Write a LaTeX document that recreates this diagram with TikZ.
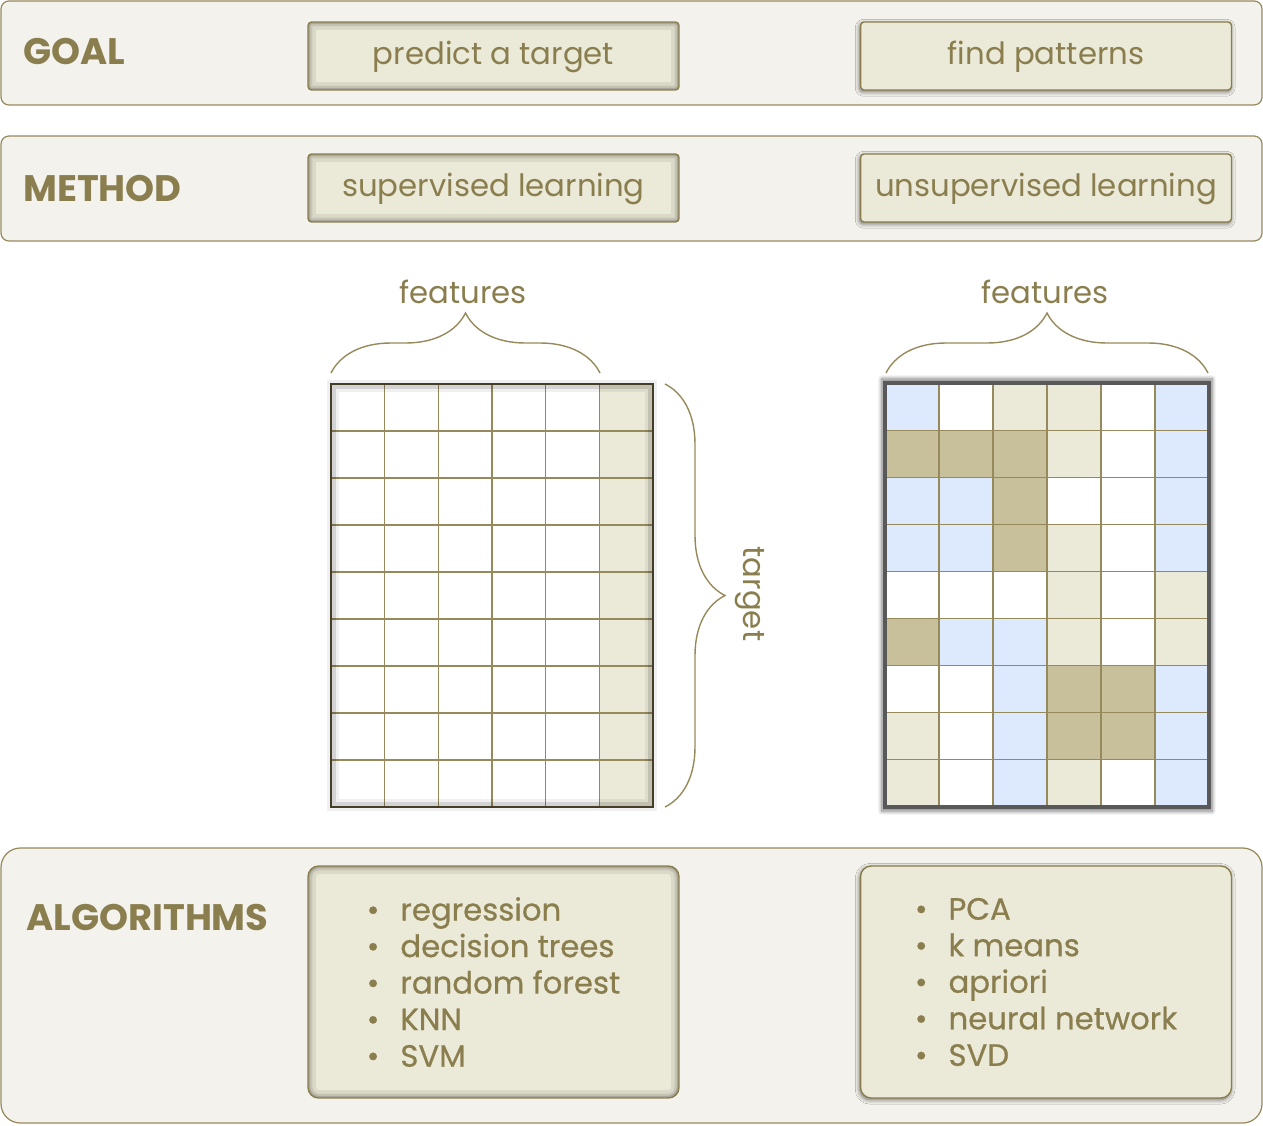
\documentclass[tikz,border=0pt]{standalone}
\usepackage{fontspec}
\setmainfont{Poppins}
\usetikzlibrary{positioning,shadows.blur,decorations.pathreplacing}
\definecolor{olivetext}{RGB}{138,126,78}
\definecolor{oliveline}{RGB}{150,138,92}
\definecolor{panelbg}{RGB}{243,242,236}
\definecolor{boxbg}{RGB}{235,233,215}
\definecolor{tandark}{RGB}{200,192,154}
\definecolor{gridblue}{RGB}{221,233,252}
\colorlet{cellB}{gridblue}
\colorlet{cellW}{white}
\colorlet{cellL}{boxbg}
\colorlet{cellD}{tandark}
\tikzset{
  panel/.style={draw=oliveline, fill=panelbg, line width=0.7pt},
  heading/.style={anchor=west, inner sep=0pt, text=olivetext, font=\fontsize{21}{25}\selectfont\bfseries},
  textbox/.style={draw=olivetext, fill=boxbg, line width=0.8pt, text=olivetext,
    minimum width=7.42cm, minimum height=1.36cm, font=\fontsize{17.5}{21}\selectfont},
  boxtext/.style={text height=13pt, text depth=3pt},
  insetbox/.style={textbox, rounded corners=2pt,
    path picture={
      \draw[black, opacity=0.07, line width=9pt] (path picture bounding box.south west) rectangle (path picture bounding box.north east);
      \draw[black, opacity=0.09, line width=5pt] (path picture bounding box.south west) rectangle (path picture bounding box.north east);
      \draw[black, opacity=0.15, line width=2.5pt] (path picture bounding box.south west) rectangle (path picture bounding box.north east);}},
  raisedbox/.style={textbox, rounded corners=2pt,
    blur shadow={shadow xshift=-0.5pt, shadow yshift=-1pt, shadow blur steps=8, shadow blur radius=2.5pt, shadow opacity=55}},
  listbox/.style={align=left, minimum height=4.64cm, font=\fontsize{17.5}{20.8}\selectfont\addfontfeature{FakeBold=0.6}},
  label/.style={text=olivetext, font=\fontsize{17.5}{21}\selectfont},
  gridline/.style={draw=oliveline, line width=0.6pt},
  featbrace/.style={draw=oliveline, line width=0.8pt, decorate, decoration={brace, amplitude=1.2cm}},
}
\begin{document}
\begin{tikzpicture}[x=0.02cm,y=-0.02cm]
\useasboundingbox (0,0) rectangle (1263,1125);
% the three panels
\draw[panel, rounded corners=4.5pt] (1,1) rectangle (1262,105);
\draw[panel, rounded corners=4.5pt] (1,136) rectangle (1262,241);
\draw[panel, rounded corners=11pt] (1,848) rectangle (1262,1123);
\node[heading] (goal) at (23,51) {GOAL};
\node[heading] (method) at (23,188) {METHOD};
\node[heading] (algos) at (26,917) {ALGORITHMS};
% boxes, supervised side (inset) and unsupervised side (raised)
\node[insetbox, boxtext] (predict) at (493.5,56) {predict a target};
\node[raisedbox, boxtext] (patterns) at (1046,56) {find patterns};
\node[insetbox, boxtext] (supervised) at (493.5,188) {supervised learning};
\node[raisedbox, boxtext] (unsupervised) at (1046,188) {unsupervised learning};
\node[insetbox, listbox, rounded corners=6pt] (supalgos) at (493.5,982)
  {\textbullet\hspace{0.42cm}regression\\ \textbullet\hspace{0.42cm}decision trees\\
   \textbullet\hspace{0.42cm}random forest\\ \textbullet\hspace{0.42cm}KNN\\ \textbullet\hspace{0.42cm}SVM};
\node[raisedbox, listbox, rounded corners=6pt] (unsupalgos) at (1046,982)
  {\textbullet\hspace{0.42cm}PCA\\ \textbullet\hspace{0.42cm}k means\\
   \textbullet\hspace{0.42cm}apriori\\ \textbullet\hspace{0.42cm}neural network\hspace{0.2cm}\\ \textbullet\hspace{0.42cm}SVD};
% left matrix: features and target column
\fill[boxbg] (599.3,384) rectangle (653,807);
\foreach \i in {1,...,5} \draw[gridline] (331+53.67*\i,384) -- ++(0,423);
\foreach \j in {1,...,8} \draw[gridline] (331,384+47*\j) -- ++(322,0);
\draw[black, opacity=0.06, line width=7pt] (333,386) rectangle (651,805);
\draw[black, opacity=0.12, line width=3.5pt] (333,386) rectangle (651,805);
\draw[black!55!oliveline, line width=1.4pt] (331,384) rectangle (653,807);
% right matrix: coloured cells
\fill[blur shadow={shadow xshift=0pt, shadow yshift=0pt, shadow scale=1.02, shadow blur steps=8, shadow opacity=50}, white] (885,383) rectangle (1209,807);
\foreach \row [count=\j from 0] in {{B,W,L,L,W,B},{D,D,D,L,W,B},{B,B,D,W,W,B},{B,B,D,L,W,B},{W,W,W,L,W,L},{D,B,B,L,W,L},{W,W,B,D,D,B},{L,W,B,D,D,B},{L,W,B,L,W,B}}
  \foreach \c [count=\i from 0] in \row
    \fill[fill=cell\c] (885+54*\i,383+47.11*\j) rectangle ++(54,47.11);
\foreach \i in {1,...,5} \draw[gridline] (885+54*\i,383) -- ++(0,424);
\foreach \j in {1,...,8} \draw[gridline] (885,383+47.11*\j) -- ++(324,0);
\draw[black!65, line width=2.2pt] (885,383) rectangle (1209,807);
% braces
\coordinate (bl1) at (331,373); \coordinate (bl2) at (600,373);
\coordinate (br1) at (886,373); \coordinate (br2) at (1208,373);
\coordinate (bt1) at (665,384); \coordinate (bt2) at (665,807);
\draw[featbrace] (bl1) -- (bl2);
\draw[featbrace] (br1) -- (br2);
\draw[featbrace] (bt1) -- (bt2);
\node[label] (featL) at (463,292) {features};
\node[label] (featR) at (1045,292) {features};
\node[label, rotate=-90] (target) at (750,594) {target};
\end{tikzpicture}
\end{document}
